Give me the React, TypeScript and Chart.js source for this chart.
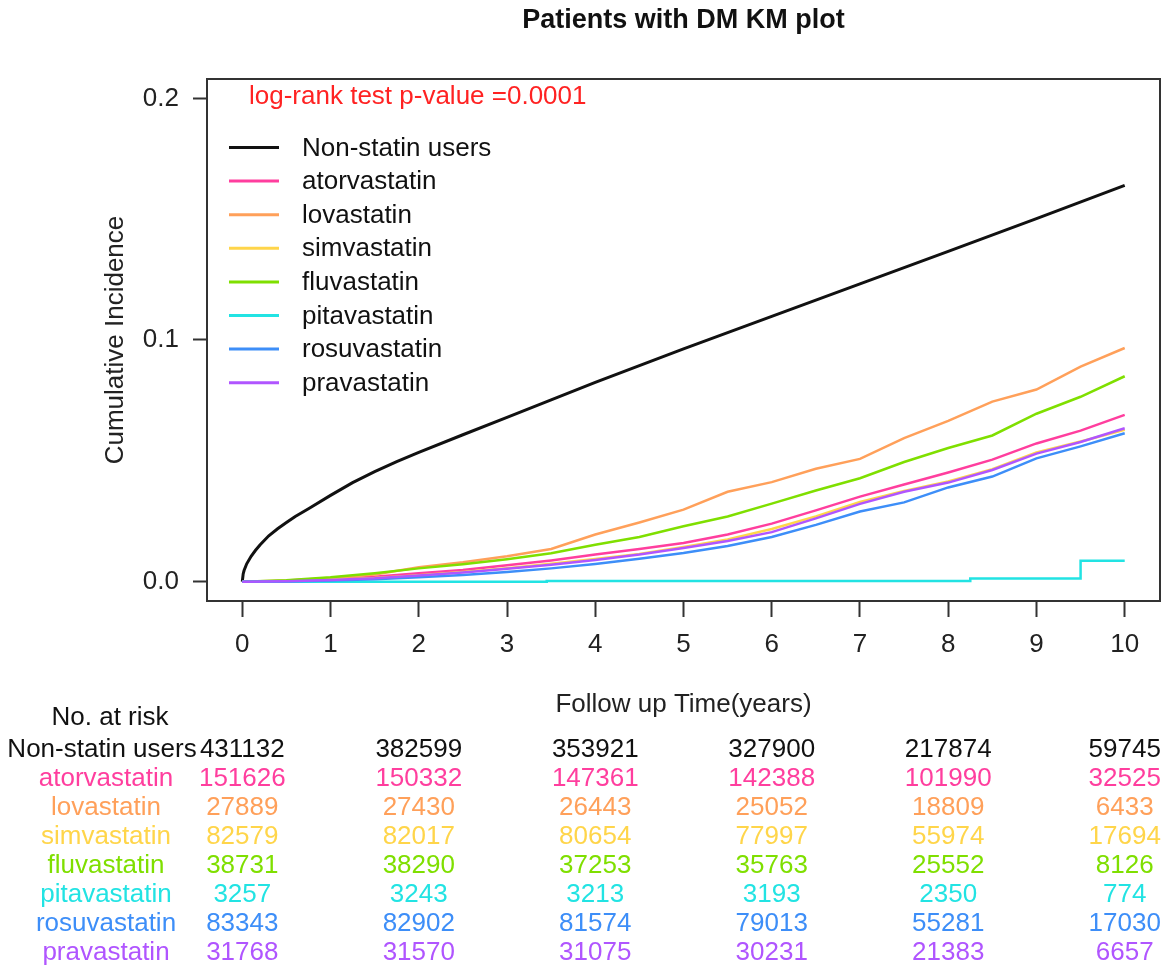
import React, { useEffect, useRef } from "react";
import { Chart, registerables } from "chart.js";

Chart.register(...registerables);

const FONT = "'Liberation Sans', Arial, sans-serif";

const TITLE = "Patients with DM KM plot";
const X_TITLE = "Follow up Time(years)";
const Y_TITLE = "Cumulative Incidence";
const PVALUE_TEXT = "log-rank test p-value =0.0001";
const RISK_HEADER = "No. at risk";

const groups = [
  "Non-statin users",
  "atorvastatin",
  "lovastatin",
  "simvastatin",
  "fluvastatin",
  "pitavastatin",
  "rosuvastatin",
  "pravastatin",
];
const colors = [
  "#111111",
  "#FF3E9E",
  "#FFA05A",
  "#FFD54A",
  "#7FDF00",
  "#22E3E3",
  "#3D8EF8",
  "#B055FF",
];

const xTicks = [0, 1, 2, 3, 4, 5, 6, 7, 8, 9, 10];
const yTicks = [0, 0.1, 0.2];

// Non-statin users
const nonStatinTimes = [0, 0.01, 0.02, 0.05, 0.1, 0.15, 0.2, 0.3, 0.4, 0.5, 0.6, 0.75, 1, 1.25, 1.5, 1.75, 2, 2.5, 3, 3.5, 4, 5, 6, 7, 8, 9, 10];
const nonStatinValues = [0, 0.0032, 0.0046, 0.0074, 0.0105, 0.013, 0.0152, 0.019, 0.0219, 0.0245, 0.027, 0.0302, 0.0357, 0.041, 0.0455, 0.0497, 0.0535, 0.0608, 0.068, 0.0752, 0.0825, 0.0963, 0.1098, 0.1232, 0.1367, 0.1502, 0.164];

// Statin groups, common time grid
const statinTimes = [0, 0.5, 1, 1.5, 2, 2.5, 3, 3.5, 4, 4.5, 5, 5.5, 6, 6.5, 7, 7.5, 8, 8.5, 9, 9.5, 10];
const atorvastatin = [0, 0.0003, 0.001, 0.002, 0.0035, 0.0048, 0.0068, 0.0088, 0.0112, 0.0135, 0.016, 0.0195, 0.024, 0.0295, 0.0352, 0.0402, 0.0452, 0.0505, 0.0572, 0.0625, 0.069];
const lovastatin = [0, 0.0005, 0.0015, 0.003, 0.006, 0.008, 0.0105, 0.0135, 0.0195, 0.0245, 0.0298, 0.0372, 0.0412, 0.0467, 0.0508, 0.0594, 0.0665, 0.0745, 0.0795, 0.089, 0.0967];
const simvastatin = [0, 0.0002, 0.0008, 0.0015, 0.0027, 0.004, 0.0056, 0.0074, 0.0094, 0.0115, 0.0143, 0.0175, 0.0218, 0.027, 0.033, 0.0375, 0.0415, 0.0465, 0.0535, 0.058, 0.0628];
const fluvastatin = [0, 0.0006, 0.0018, 0.0035, 0.0055, 0.0072, 0.0093, 0.0118, 0.0153, 0.0185, 0.0229, 0.027, 0.0323, 0.0377, 0.0428, 0.0495, 0.0553, 0.0605, 0.0695, 0.0765, 0.085];
const rosuvastatin = [0, 0.0001, 0.0005, 0.001, 0.0018, 0.0028, 0.004, 0.0055, 0.0073, 0.0095, 0.0119, 0.0148, 0.0185, 0.0235, 0.029, 0.0328, 0.039, 0.0435, 0.051, 0.056, 0.0614];
const pravastatin = [0, 0.0002, 0.0007, 0.0014, 0.0026, 0.0038, 0.0053, 0.007, 0.009, 0.0112, 0.0139, 0.0168, 0.0205, 0.0262, 0.0322, 0.0372, 0.041, 0.0462, 0.053, 0.0578, 0.0635];

// Pitavastatin: visible step function (value after each event time)
const pitavastatinTimes = [0, 3.45, 8.25, 9.5, 10];
const pitavastatinValues = [0, 0.0003, 0.0013, 0.0087, 0.0087];

// Number at risk table
const riskTimes = [0, 2, 4, 6, 8, 10];
const riskNonStatin = [431132, 382599, 353921, 327900, 217874, 59745];
const riskAtorvastatin = [151626, 150332, 147361, 142388, 101990, 32525];
const riskLovastatin = [27889, 27430, 26443, 25052, 18809, 6433];
const riskSimvastatin = [82579, 82017, 80654, 77997, 55974, 17694];
const riskFluvastatin = [38731, 38290, 37253, 35763, 25552, 8126];
const riskPitavastatin = [3257, 3243, 3213, 3193, 2350, 774];
const riskRosuvastatin = [83343, 82902, 81574, 79013, 55281, 17030];
const riskPravastatin = [31768, 31570, 31075, 30231, 21383, 6657];

const riskRows = [
  riskNonStatin,
  riskAtorvastatin,
  riskLovastatin,
  riskSimvastatin,
  riskFluvastatin,
  riskPitavastatin,
  riskRosuvastatin,
  riskPravastatin,
];

const zip = (ts: number[], vs: number[]) => ts.map((t, i) => ({ x: t, y: vs[i] }));

const seriesData = [
  zip(nonStatinTimes, nonStatinValues),
  zip(statinTimes, atorvastatin),
  zip(statinTimes, lovastatin),
  zip(statinTimes, simvastatin),
  zip(statinTimes, fluvastatin),
  zip(pitavastatinTimes, pitavastatinValues),
  zip(statinTimes, rosuvastatin),
  zip(statinTimes, pravastatin),
];

const extrasPlugin = {
  id: "kmExtras",
  afterDatasetsDraw(chart: any) {
    const { ctx, chartArea } = chart;
    const xs = chart.scales.x;
    ctx.save();
    // box
    ctx.strokeStyle = "#333333";
    ctx.lineWidth = 2;
    ctx.strokeRect(chartArea.left, chartArea.top, chartArea.right - chartArea.left, chartArea.bottom - chartArea.top);

    // p-value
    ctx.font = `26px ${FONT}`;
    ctx.textBaseline = "middle";
    ctx.textAlign = "left";
    ctx.fillStyle = "#FF2222";
    ctx.fillText(PVALUE_TEXT, 249, 97);

    // legend
    const ly0 = 147.5;
    const ldy = 33.6;
    groups.forEach((g, i) => {
      const y = ly0 + i * ldy;
      ctx.strokeStyle = colors[i];
      ctx.lineWidth = 3;
      ctx.beginPath();
      ctx.moveTo(229, y);
      ctx.lineTo(279, y);
      ctx.stroke();
      ctx.fillStyle = "#111111";
      ctx.textAlign = "left";
      ctx.fillText(g, 302, y + 1);
    });

    // risk table
    ctx.textAlign = "center";
    ctx.fillStyle = "#111111";
    ctx.fillText(RISK_HEADER, 110, 718);
    riskRows.forEach((row, i) => {
      const y = 750 + i * 29;
      ctx.fillStyle = colors[i];
      ctx.textAlign = "center";
      ctx.fillText(groups[i], i === 0 ? 102 : 106, y);
      row.forEach((n, j) => {
        ctx.fillText(String(n), xs.getPixelForValue(riskTimes[j]), y);
      });
    });
    ctx.restore();
  },
};

export default function App() {
  const ref = useRef<HTMLCanvasElement>(null);

  useEffect(() => {
    const canvas = ref.current;
    if (!canvas) return;
    const datasets = seriesData.map((d, i) => ({
      label: groups[i],
      data: d,
      borderColor: colors[i],
      backgroundColor: colors[i],
      borderWidth: i === 0 ? 3 : 2.5,
      pointRadius: 0,
      tension: 0,
      fill: false,
      stepped: i === 5 ? ("before" as const) : false,
      order: groups.length - i,
    }));

    const chart = new Chart(canvas, {
      type: "line",
      data: { datasets },
      options: {
        animation: false,
        responsive: false,
        devicePixelRatio: 1,
        events: [],
        layout: { padding: { left: 100, right: 5, top: 0, bottom: 250 } },
        plugins: {
          legend: { display: false },
          tooltip: { enabled: false },
          title: {
            display: true,
            text: TITLE,
            fullSize: false,
            align: "center",
            color: "#111111",
            font: { family: FONT, size: 27, weight: "bold" },
            padding: { top: 4, bottom: 42.6 },
          },
        },
        scales: {
          x: {
            type: "linear",
            min: -0.4,
            max: 10.4,
            afterBuildTicks: (s: any) => {
              s.ticks = xTicks.map((v) => ({ value: v }));
            },
            afterFit: (s: any) => {
              s.height = 119;
            },
            grid: {
              drawOnChartArea: false,
              drawTicks: true,
              tickLength: 16,
              tickColor: "#333333",
              tickWidth: 2,
            },
            border: { display: false },
            ticks: {
              padding: 12,
              color: "#222222",
              font: { family: FONT, size: 26 },
              maxRotation: 0,
              autoSkip: false,
            },
            title: {
              display: true,
              text: X_TITLE,
              color: "#222222",
              font: { family: FONT, size: 26 },
              padding: 0,
            },
          },
          y: {
            type: "linear",
            min: -0.008,
            max: 0.208,
            afterBuildTicks: (s: any) => {
              s.ticks = yTicks.map((v) => ({ value: v }));
            },
            afterFit: (s: any) => {
              s.width = 107;
            },
            grid: {
              drawOnChartArea: false,
              drawTicks: true,
              tickLength: 14,
              tickColor: "#333333",
              tickWidth: 2,
            },
            border: { display: false },
            ticks: {
              padding: 14,
              color: "#222222",
              font: { family: FONT, size: 26 },
              callback: (v: any) => Number(v).toFixed(1),
            },
            title: {
              display: true,
              text: Y_TITLE,
              color: "#222222",
              font: { family: FONT, size: 26 },
              padding: 0,
            },
          },
        },
      },
      plugins: [extrasPlugin],
    });
    return () => chart.destroy();
  }, []);

  return (
    <div style={{ position: "absolute", left: 0, top: 0, width: 1165, height: 970, background: "#ffffff" }}>
      <canvas ref={ref} width={1165} height={970} style={{ display: "block" }} />
    </div>
  );
}
